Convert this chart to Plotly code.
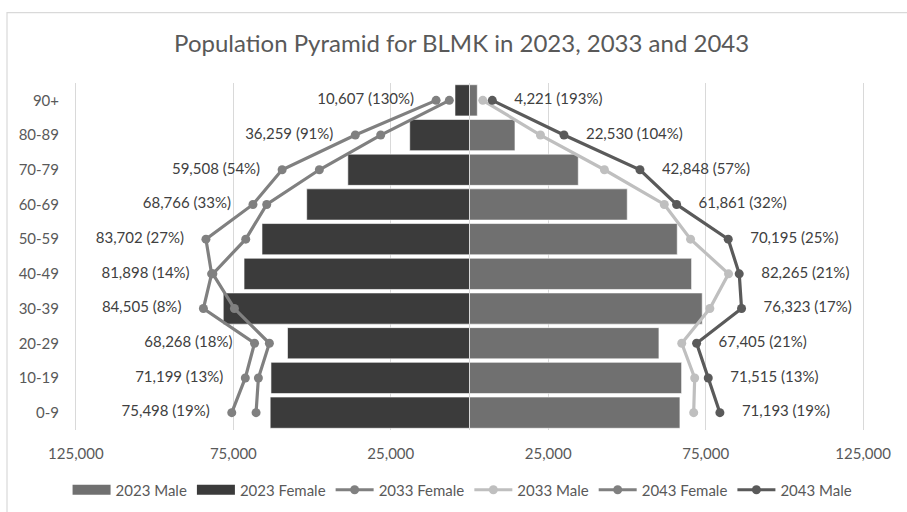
import plotly.graph_objects as go

# Age bands, youngest at the bottom
ages = ["0-9", "10-19", "20-29", "30-39", "40-49", "50-59", "60-69", "70-79", "80-89", "90+"]

# Population counts by age band
female_2023 = [63300, 63050, 57800, 78200, 71600, 65900, 51700, 38640, 18980, 4610]
male_2023 = [66830, 67360, 60160, 73910, 70530, 65980, 50100, 34550, 14440, 2480]
female_2033 = [67780, 67040, 63550, 74660, 81500, 71060, 64390, 47680, 28200, 6410]
male_2033 = [71193, 71515, 67405, 76323, 82265, 70195, 61861, 42848, 22530, 4221]
female_2043 = [75498, 71199, 68268, 84505, 81898, 83702, 68766, 59508, 36259, 10607]
male_2043 = [79520, 75820, 72120, 86400, 85660, 82170, 65770, 54130, 30000, 7240]

# Percentage growth shown in the labels
female_pct = [19, 13, 18, 8, 14, 27, 33, 54, 91, 130]
male_pct = [19, 13, 21, 17, 21, 25, 32, 57, 104, 193]

# Axis ticks (absolute population)
tick_values = [-125000, -75000, -25000, 25000, 75000, 125000]
tick_labels = [f"{abs(v):,}" for v in tick_values]

FONT = "Lato"
TEXT = "#595959"
LABEL = "#404040"
PAD = "\u00a0" * 4

neg = lambda vals: [-v for v in vals]

female_text = [f"{v:,} ({p}%){PAD}" for v, p in zip(female_2043, female_pct)]
male_text = [f"{PAD}{v:,} ({p}%)" for v, p in zip(male_2033, male_pct)]

MALE_23 = "#707070"
FEMALE_23 = "#3b3b3b"

fig = go.Figure()

fig.add_trace(go.Bar(
    name="2023 Male", y=ages, x=male_2023, orientation="h", showlegend=False,
    marker=dict(color=MALE_23, line=dict(color="#ffffff", width=0.6)),
))
fig.add_trace(go.Bar(
    name="2023 Female", y=ages, x=neg(female_2023), orientation="h", showlegend=False,
    marker=dict(color=FEMALE_23, line=dict(color="#ffffff", width=0.6)),
))

# Wide swatches for the bar series in the legend
for name, color in [("2023 Male", MALE_23), ("2023 Female", FEMALE_23)]:
    fig.add_trace(go.Scatter(
        name=name, x=[None], y=[None], mode="lines",
        line=dict(color=color, width=10), hoverinfo="skip",
    ))

line_style = dict(width=3.2)
marker_style = dict(symbol="circle", size=9)

fig.add_trace(go.Scatter(
    name="2033 Female", y=ages, x=neg(female_2033), mode="lines+markers",
    line=dict(color="#808080", **line_style), marker=dict(color="#808080", **marker_style),
))
fig.add_trace(go.Scatter(
    name="2033 Male", y=ages, x=male_2033, mode="lines+markers",
    line=dict(color="#bfbfbf", **line_style), marker=dict(color="#bfbfbf", **marker_style),
))
fig.add_trace(go.Scatter(
    name="2043 Female", y=ages, x=neg(female_2043), mode="lines+markers+text",
    text=female_text, textposition="middle left",
    textfont=dict(family=FONT, size=15, color=LABEL),
    line=dict(color="#808080", **line_style), marker=dict(color="#808080", **marker_style),
))
fig.add_trace(go.Scatter(
    name="2043 Male", y=ages, x=male_2043, mode="lines+markers+text",
    text=male_text, textposition="middle right",
    textfont=dict(family=FONT, size=15, color=LABEL),
    line=dict(color="#5a5a5a", **line_style), marker=dict(color="#5a5a5a", **marker_style),
))

# Plot area spans 76..863 px horizontally and 82.6..430.4 px vertically
pw, ph = 787.0, 347.8
frame = dict(x0=(7 - 76) / pw, x1=(912 - 76) / pw, y0=(430.4 - 516) / ph, y1=(430.4 - 12) / ph)

fig.update_layout(
    width=907, height=512,
    margin=dict(l=74, r=42, t=82.6, b=81.6, autoexpand=False),
    paper_bgcolor="white", plot_bgcolor="white",
    barmode="relative", bargap=0.1,
    font=dict(family=FONT, size=15, color=TEXT),
    title=dict(
        text="Population Pyramid for BLMK in 2023, 2033 and 2043",
        font=dict(family=FONT, size=24, color=TEXT),
        x=0.509, xref="container", xanchor="center",
        y=1 - 44 / 512, yref="container", yanchor="middle",
    ),
    xaxis=dict(
        range=[-125600, 125600], tickvals=tick_values, ticktext=tick_labels,
        showgrid=True, gridcolor="#d9d9d9", gridwidth=1,
        zeroline=False, showline=False, ticks="",
        ticklabelstandoff=13,
        tickfont=dict(family=FONT, size=15, color=TEXT),
    ),
    yaxis=dict(
        categoryorder="array", categoryarray=ages,
        range=[-0.5, len(ages) - 0.5],
        showgrid=False, zeroline=False, showline=False, ticks="",
        ticklabelstandoff=14,
        tickfont=dict(family=FONT, size=15, color=TEXT),
    ),
    legend=dict(
        orientation="h", xref="container", yref="container",
        x=0.51, xanchor="center",
        y=1 - 490 / 512, yanchor="middle",
        font=dict(family=FONT, size=15, color=TEXT),
        itemwidth=38, traceorder="normal",
    ),
    shapes=[
        dict(type="rect", xref="paper", yref="paper", layer="below",
             line=dict(color="#d9d9d9", width=1.2),
             x0=(7 - 74) / 791, x1=(912 - 74) / 791, y0=frame["y0"], y1=frame["y1"]),
        dict(type="line", xref="x", yref="paper", x0=0, x1=0, y0=0, y1=1,
             layer="above", line=dict(color="#d9d9d9", width=1)),
    ],
)

fig.write_html("out.html")
